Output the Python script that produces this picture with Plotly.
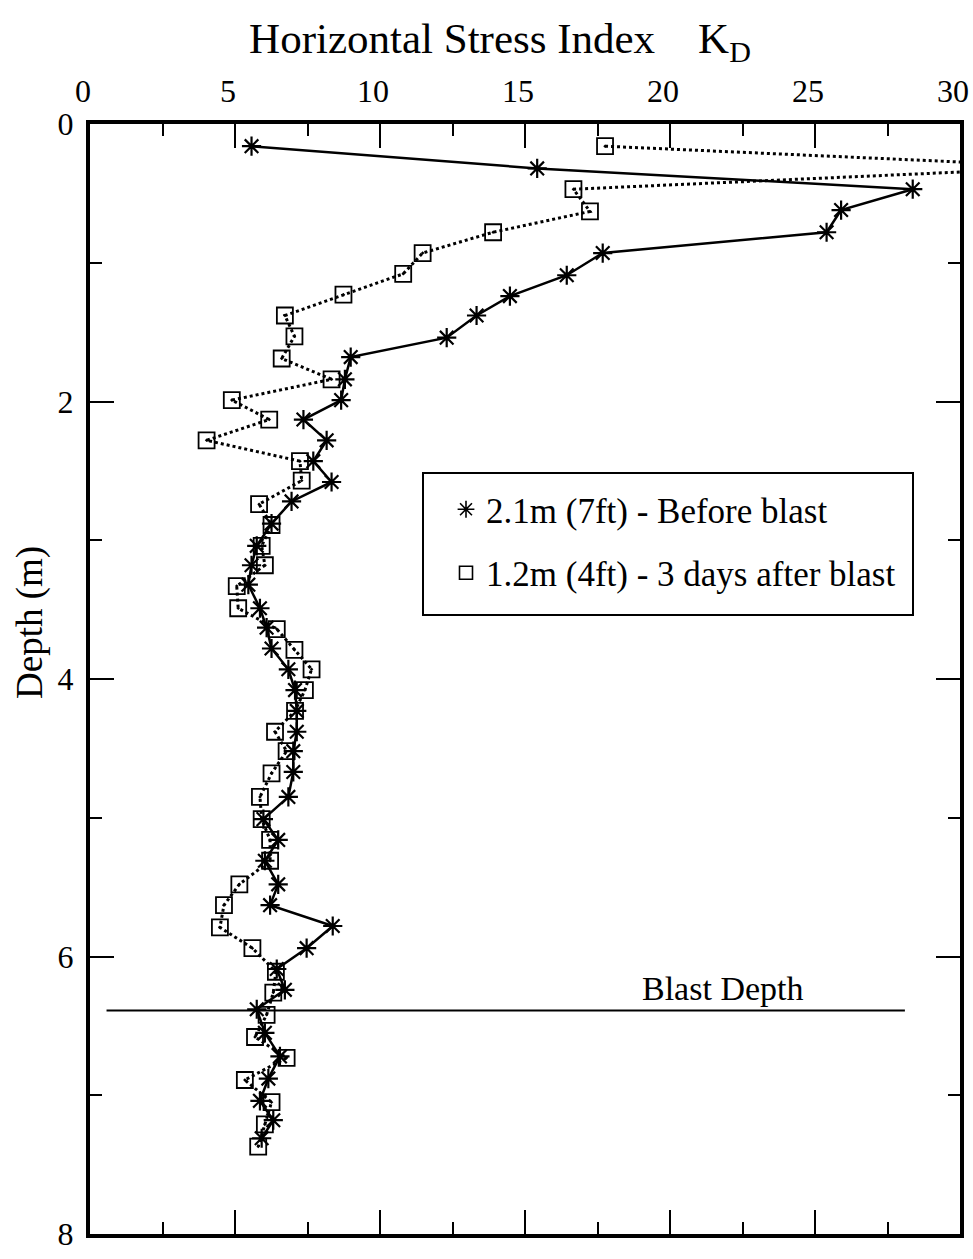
import plotly.graph_objects as go

# ---- data ----
depth_before = [0.16, 0.32, 0.47, 0.62, 0.78, 0.93, 1.09, 1.24, 1.38, 1.54, 1.68, 1.84, 1.99,
                2.13, 2.28, 2.43, 2.58, 2.72, 2.88, 3.04, 3.18, 3.32, 3.49, 3.63, 3.78, 3.93,
                4.08, 4.23, 4.38, 4.52, 4.67, 4.85, 5.01, 5.16, 5.31, 5.48, 5.63, 5.78, 5.94,
                6.09, 6.24, 6.38, 6.55, 6.72, 6.88, 7.04, 7.18, 7.31]
kd_before = [5.57, 15.42, 28.37, 25.9, 25.4, 17.68, 16.44, 14.48, 13.33, 12.3, 8.99, 8.79, 8.66,
             7.36, 8.16, 7.7, 8.33, 6.95, 6.26, 5.75, 5.57, 5.46, 5.86, 6.09, 6.26, 6.84,
             7.07, 7.13, 7.13, 7.01, 7.01, 6.84, 5.98, 6.49, 6.03, 6.49, 6.21, 8.37, 7.47,
             6.44, 6.72, 5.75, 6.03, 6.55, 6.15, 5.86, 6.32, 5.92]

depth_after = [0.16, 0.31, 0.47, 0.63, 0.78, 0.93, 1.08, 1.23, 1.38, 1.53, 1.69, 1.84, 1.99,
               2.13, 2.28, 2.43, 2.57, 2.74, 2.89, 3.04, 3.18, 3.33, 3.49, 3.64, 3.79, 3.93,
               4.08, 4.23, 4.38, 4.52, 4.68, 4.85, 5.01, 5.16, 5.31, 5.48, 5.63, 5.79, 5.94,
               6.11, 6.26, 6.42, 6.58, 6.73, 6.89, 7.05, 7.21, 7.37]
kd_after = [17.76, 33.9, 16.67, 17.24, 13.9, 11.47, 10.8, 8.74, 6.72, 7.05, 6.61, 8.33, 4.89,
            6.18, 4.02, 7.24, 7.3, 5.83, 6.26, 5.92, 6.03, 5.06, 5.11, 6.44, 7.05, 7.64,
            7.41, 7.07, 6.38, 6.78, 6.26, 5.86, 5.92, 6.21, 6.21, 5.15, 4.62, 4.48, 5.6,
            6.41, 6.32, 6.09, 5.69, 6.78, 5.34, 6.26, 6.03, 5.8]

blast_depth = 6.39
blast_x = [0.57, 28.1]

x_ticks = [0, 5, 10, 15, 20, 25, 30]
y_ticks = [0, 2, 4, 6, 8]

label_before = "2.1m (7ft) - Before blast"
label_after = "1.2m (4ft) - 3 days after blast"

FONT = "Liberation Serif"
W, H = 973, 1259
ML, MR, MT, MB = 90, 13, 124, 25
PW, PH = W - ML - MR, H - MT - MB


def px_to_paper_x(px):
    return (px - ML) / PW


def px_to_paper_y(py):
    return 1 - (py - MT) / PH


fig = go.Figure()

fig.add_trace(go.Scatter(
    x=kd_after, y=depth_after, mode="lines+markers", showlegend=False,
    line=dict(color="black", width=3, dash="dot"),
    marker=dict(symbol="square-open-dot", size=16, color="black", line=dict(width=1.8)),
    cliponaxis=True,
))
fig.add_trace(go.Scatter(
    x=kd_before, y=depth_before, mode="lines+markers", showlegend=False,
    line=dict(color="black", width=2.5),
    marker=dict(symbol="asterisk-open", size=16, color="black", line=dict(width=2.2, color="black")),
    cliponaxis=True,
))
# legend-only entries (marker only, as in the reference)
fig.add_trace(go.Scatter(
    x=[None], y=[None], mode="markers", name=label_before, legendgroup="a",
    marker=dict(symbol="asterisk-open", size=14, color="black", line=dict(width=1.6, color="black")),
))
fig.add_trace(go.Scatter(
    x=[None], y=[None], mode="markers", name=label_after, legendgroup="b",
    marker=dict(symbol="square-open", size=13, color="black", line=dict(width=1.6, color="black")),
))

fig.add_shape(type="line", xref="x", yref="y", x0=blast_x[0], x1=blast_x[1],
              y0=blast_depth, y1=blast_depth, line=dict(color="black", width=2))
fig.add_annotation(x=21.8, y=blast_depth, xref="x", yref="y", text="Blast Depth",
                   showarrow=False, yanchor="bottom", yshift=2,
                   font=dict(family=FONT, size=34, color="black"))
# y-axis title (placed as in the reference, above the axis centre)
fig.add_annotation(x=px_to_paper_x(30), y=px_to_paper_y(623), xref="paper", yref="paper",
                   text="Depth (m)", textangle=-90, showarrow=False,
                   xanchor="center", yanchor="middle",
                   font=dict(family=FONT, size=37, color="black"))
# legend frame
fig.add_shape(type="rect", xref="paper", yref="paper",
              x0=px_to_paper_x(423), x1=px_to_paper_x(913),
              y0=px_to_paper_y(615), y1=px_to_paper_y(473),
              line=dict(color="black", width=2), fillcolor="rgba(0,0,0,0)")

axis_common = dict(
    showgrid=False, zeroline=False, showline=True, linecolor="black", linewidth=4,
    mirror="ticks", ticks="inside", ticklen=24, tickwidth=2, tickcolor="black",
    tickfont=dict(family=FONT, size=32, color="black"), automargin=False,
    ticklabeloverflow="allow",
)

fig.update_xaxes(
    **axis_common, side="top", range=[0, 30], tickvals=x_ticks,
    ticktext=[str(v) for v in x_ticks], ticklabelstandoff=5, ticklabelshift=-7,
    minor=dict(dtick=2.5, ticks="inside", ticklen=12, tickwidth=2, tickcolor="black"),
)
fig.update_yaxes(
    **axis_common, range=[8, 0], tickvals=y_ticks, ticktext=[str(v) for v in y_ticks],
    ticklabelstandoff=6,
    minor=dict(dtick=1, ticks="inside", ticklen=12, tickwidth=2, tickcolor="black"),
)

fig.update_layout(
    width=W, height=H,
    margin=dict(l=ML, r=MR, t=MT, b=MB),
    plot_bgcolor="white", paper_bgcolor="white",
    font=dict(family=FONT, color="black"),
    title=dict(text="Horizontal Stress Index\u00a0\u00a0\u00a0\u00a0K<sub>D</sub>",
               font=dict(family=FONT, size=43, color="black"),
               xref="container", yref="container",
               x=500 / W, xanchor="center", y=1 - 38 / H, yanchor="middle"),
    legend=dict(
        x=px_to_paper_x(424), y=px_to_paper_y(480), xanchor="left", yanchor="top",
        borderwidth=0, bgcolor="rgba(0,0,0,0)",
        font=dict(family=FONT, size=35, color="black"),
        itemwidth=30, tracegroupgap=15, indentation=22,
    ),
)

fig.write_html("out.html")
